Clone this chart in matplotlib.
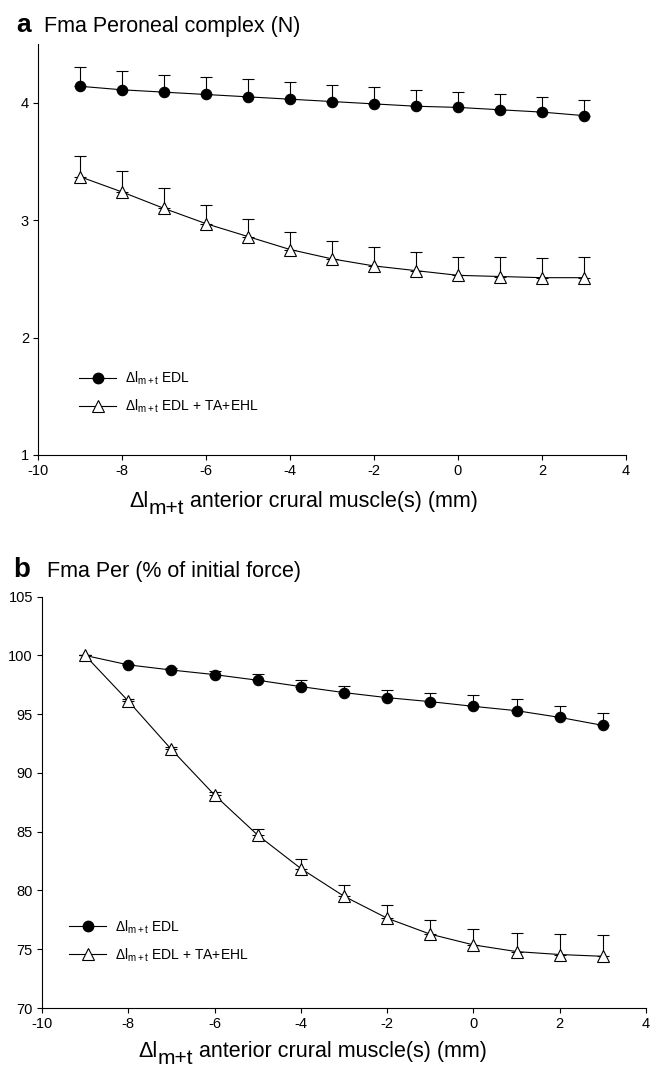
import matplotlib

matplotlib.use("Agg")
import matplotlib.pyplot as plt
from matplotlib.lines import Line2D

plt.rcParams["font.family"] = ["Liberation Sans", "DejaVu Sans"]
plt.rcParams["mathtext.fontset"] = "custom"
plt.rcParams["mathtext.rm"] = "Liberation Sans"
plt.rcParams["mathtext.it"] = "Liberation Sans:italic"
plt.rcParams["mathtext.bf"] = "Liberation Sans:bold"
plt.rcParams["axes.unicode_minus"] = False

W, H = 662, 1072

# shortening of anterior crural muscle(s), mm
dl = [-9, -8, -7, -6, -5, -4, -3, -2, -1, 0, 1, 2, 3]

# panel a: peroneal force (N), mean and SE (upper bar only)
edl_n = [4.14, 4.11, 4.09, 4.07, 4.05, 4.03, 4.01, 3.99, 3.97, 3.96, 3.94, 3.92, 3.89]
edl_n_se = [0.16, 0.16, 0.15, 0.15, 0.15, 0.15, 0.14, 0.14, 0.14, 0.13, 0.13, 0.13, 0.13]
all_n = [3.37, 3.24, 3.10, 2.97, 2.86, 2.75, 2.67, 2.61, 2.57, 2.53, 2.52, 2.51, 2.51]
all_n_se = [0.18, 0.18, 0.17, 0.16, 0.15, 0.15, 0.15, 0.16, 0.16, 0.16, 0.17, 0.17, 0.18]

# panel b: % of initial force
edl_pct = [100.0, 99.2, 98.76, 98.37, 97.89, 97.35, 96.84, 96.41, 96.07, 95.67, 95.30, 94.73, 94.05]
edl_pct_se = [0.0, 0.1, 0.2, 0.34, 0.5, 0.56, 0.6, 0.68, 0.77, 0.97, 0.97, 0.97, 1.05]
all_pct = [100.0, 96.12, 92.0, 88.12, 84.71, 81.87, 79.51, 77.64, 76.28, 75.37, 74.80, 74.55, 74.40]
all_pct_se = [0.0, 0.15, 0.18, 0.28, 0.51, 0.77, 0.94, 1.11, 1.19, 1.33, 1.56, 1.75, 1.85]

LBL_EDL = r"$\Delta$l$_{\mathrm{m+t}}$ EDL"
LBL_ALL = r"$\Delta$l$_{\mathrm{m+t}}$ EDL + TA+EHL"

MS = {"o": 7.5, "^": 8.5}


def draw_series(ax, y, se, marker, face, markevery=None):
    ax.errorbar(dl, y, yerr=[[0] * len(se), se], fmt="none", ecolor="black",
                elinewidth=0.8, capsize=4.5, capthick=0.8, zorder=2)
    ax.plot(dl, y, color="black", linewidth=0.8, marker=marker, markersize=MS[marker],
            markerfacecolor=face, markeredgecolor="black", markeredgewidth=0.8,
            markevery=markevery, zorder=3)


def add_legend(ax, anchor):
    handles = [
        Line2D([], [], color="black", lw=0.8, marker="o", ms=MS["o"], mfc="black", mec="black"),
        Line2D([], [], color="black", lw=0.8, marker="^", ms=MS["^"], mfc="white", mec="black", mew=0.8),
    ]
    ax.legend(handles, [LBL_EDL, LBL_ALL], loc="center left", bbox_to_anchor=anchor,
              frameon=False, fontsize=10, handlelength=2.7, handletextpad=0.6,
              labelspacing=0.75, borderpad=0, borderaxespad=0)


def style_axes(ax, ylim, yticks):
    ax.set_xlim(-10, 4)
    ax.set_ylim(*ylim)
    ax.set_xticks(range(-10, 5, 2))
    ax.set_yticks(yticks)
    ax.spines["top"].set_visible(False)
    ax.spines["right"].set_visible(False)
    for s in ("left", "bottom"):
        ax.spines[s].set_linewidth(0.8)
    ax.tick_params(direction="out", length=3.5, width=0.8, labelsize=10.5, pad=3)


def compose(fig, x_px, base_px, parts):
    """Draw text pieces one after another; each part is (text, size, drop_px)."""
    renderer = fig.canvas.get_renderer()
    for s, size, drop in parts:
        t = fig.text(x_px / W, 1 - (base_px + drop) / H, s, fontsize=size, va="baseline")
        x_px += t.get_window_extent(renderer).width


def xlabel_parts():
    return [("\u0394l", 15.5, 0), ("m+t", 15, 7), (" anterior crural muscle(s) (mm)", 15.5, 0)]


fig = plt.figure(figsize=(W / 100, H / 100), dpi=100)

ax_a = fig.add_axes([38 / W, 1 - 455 / H, 588 / W, 411 / H])
draw_series(ax_a, edl_n, edl_n_se, "o", "black")
draw_series(ax_a, all_n, all_n_se, "^", "white")
style_axes(ax_a, (1, 4.5), [1, 2, 3, 4])
add_legend(ax_a, (0.0697, 0.152))

ax_b = fig.add_axes([42 / W, 1 - 1008 / H, 604 / W, 411.3 / H])
draw_series(ax_b, edl_pct, edl_pct_se, "o", "black", markevery=list(range(1, 13)))
draw_series(ax_b, all_pct, all_pct_se, "^", "white")
style_axes(ax_b, (70, 105), [70, 75, 80, 85, 90, 95, 100, 105])
add_legend(ax_b, (0.0447, 0.163))

fig.text(16 / W, 1 - 32 / H, "a", fontsize=19, fontweight="bold", va="baseline")
fig.text(44 / W, 1 - 32 / H, "Fma Peroneal complex (N)", fontsize=15.5, va="baseline")
fig.text(13 / W, 1 - 577 / H, "b", fontsize=20, fontweight="bold", va="baseline")
fig.text(47 / W, 1 - 577 / H, "Fma Per (% of initial force)", fontsize=15.5, va="baseline")

compose(fig, 129, 507, xlabel_parts())
compose(fig, 138, 1057, xlabel_parts())

fig.savefig("out.png")
